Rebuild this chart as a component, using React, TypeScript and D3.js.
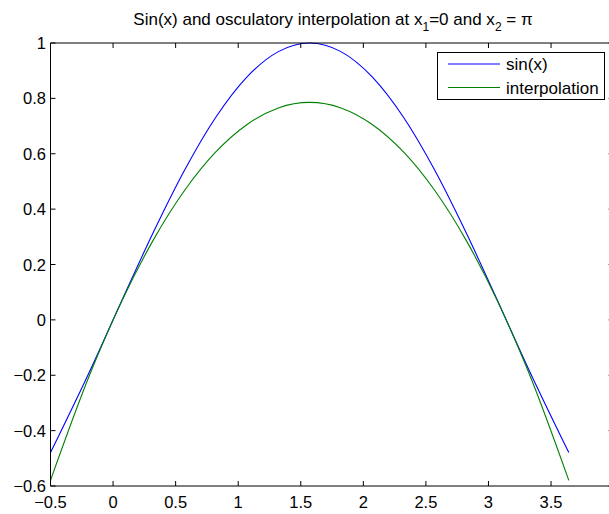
import React from "react";
import * as d3 from "d3";

const xSamples = [-0.5, -0.179, 0.071, 0.321, 0.571, 0.821, 1.071, 1.321, 1.571, 1.821, 2.071, 2.321, 2.571, 2.821, 3.071, 3.321, 3.642];
const sinValues = [-0.4794, -0.1782, 0.0707, 0.3153, 0.5403, 0.7317, 0.8776, 0.9689, 1.0, 0.9689, 0.8776, 0.7317, 0.5403, 0.3153, 0.0707, -0.1782, -0.4794];
const interpValues = [-0.5796, -0.1894, 0.0692, 0.288, 0.4671, 0.6064, 0.7058, 0.7655, 0.7854, 0.7655, 0.7058, 0.6064, 0.4671, 0.288, 0.0692, -0.1894, -0.5796];
const xTicks = [-0.5, 0, 0.5, 1, 1.5, 2, 2.5, 3, 3.5, 4];
const yTicks = [-0.6, -0.4, -0.2, 0, 0.2, 0.4, 0.6, 0.8, 1];
const seriesNames = ["sin(x)", "interpolation"];
const seriesColors = ["#0000ff", "#008000"];

const W = 609;
const H = 514;
const L = 50.5;
const R = 613.6;
const T = 43;
const B = 486;
const FONT = "'Liberation Sans', Arial, Helvetica, sans-serif";

function fmt(v: number): string {
  const s = String(+v.toFixed(2));
  return s.startsWith("-") ? "\u2212" + s.slice(1) : s;
}

export default function App() {
  const x = d3.scaleLinear().domain([-0.5, 4]).range([L, R]);
  const y = d3.scaleLinear().domain([-0.6, 1]).range([B, T]);
  const line = d3
    .line<[number, number]>()
    .x((d) => x(d[0]))
    .y((d) => y(d[1]))
    .curve(d3.curveMonotoneX);
  const series = [sinValues, interpValues].map((vals) =>
    xSamples.map((xv, i) => [xv, vals[i]] as [number, number])
  );
  const tl = 5;
  return (
    <svg
      width={W}
      height={H}
      style={{ position: "absolute", left: 0, top: 0, background: "#fff" }}
      fontFamily={FONT}
    >
      <rect x={0} y={0} width={W} height={H} fill="#fff" />
      <text x={333} y={25} fontSize={17} textAnchor="middle" fill="#000">
        Sin(x) and osculatory interpolation at x
        <tspan fontSize={12} dy={6}>1</tspan>
        <tspan dy={-6}>=0 and x</tspan>
        <tspan fontSize={12} dy={6}>2</tspan>
        <tspan dy={-6}> = π</tspan>
      </text>
      <g>
        {series.map((s, i) => (
          <path key={i} d={line(s) || ""} fill="none" stroke={seriesColors[i]} strokeWidth={1.1} />
        ))}
      </g>
      <g stroke="#000" strokeWidth={1} fill="none">
        <line x1={L} y1={T} x2={R} y2={T} />
        <line x1={L} y1={B} x2={R} y2={B} />
        <line x1={L} y1={T} x2={L} y2={B} />
        <line x1={R} y1={T} x2={R} y2={B} />
        {xTicks.map((t) => (
          <g key={"xt" + t}>
            <line x1={x(t)} x2={x(t)} y1={B} y2={B - tl} />
            <line x1={x(t)} x2={x(t)} y1={T} y2={T + tl} />
          </g>
        ))}
        {yTicks.map((t) => (
          <g key={"yt" + t}>
            <line x1={L} x2={L + tl} y1={y(t)} y2={y(t)} />
            <line x1={R} x2={R - tl} y1={y(t)} y2={y(t)} />
          </g>
        ))}
      </g>
      <g fontSize={16.5} fill="#000">
        {xTicks.map((t) => (
          <text key={"xl" + t} x={x(t)} y={508} textAnchor="middle">
            {fmt(t)}
          </text>
        ))}
        {yTicks.map((t) => (
          <text key={"yl" + t} x={46} y={y(t) + 6} textAnchor="end">
            {fmt(t)}
          </text>
        ))}
      </g>
      <g>
        <rect x={437.5} y={52.5} width={167} height={47} fill="#fff" stroke="#000" strokeWidth={1} />
        {seriesNames.map((n, i) => (
          <g key={n}>
            <line x1={448} x2={500} y1={64 + i * 23.5} y2={64 + i * 23.5} stroke={seriesColors[i]} strokeWidth={1.1} />
            <text x={506} y={64 + i * 23.5 + 6} fontSize={17} fill="#000">
              {n}
            </text>
          </g>
        ))}
      </g>
    </svg>
  );
}
